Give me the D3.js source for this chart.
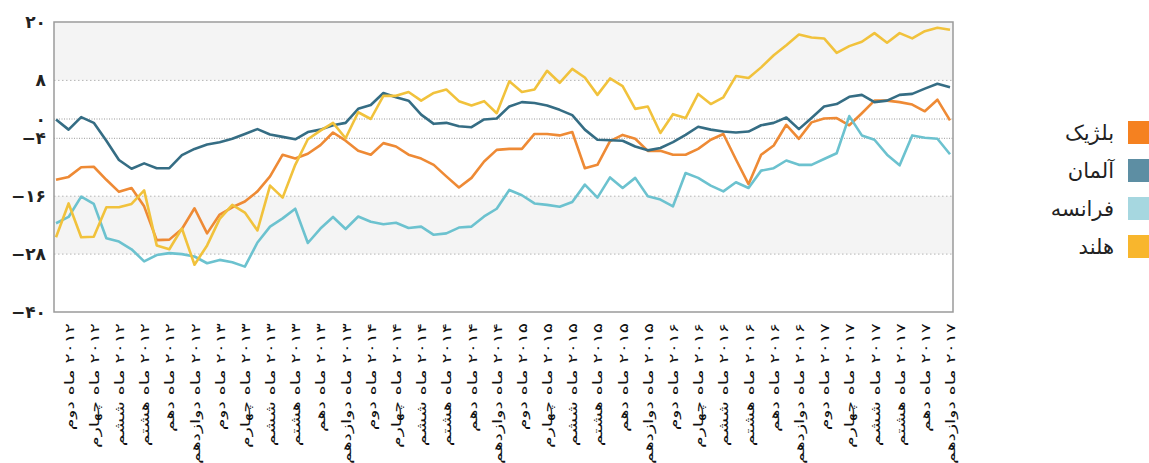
<!DOCTYPE html>
<html>
<head>
<meta charset="utf-8">
<script src="https://cdn.jsdelivr.net/npm/d3@7"></script>
<style>
  body { margin: 0; background: #fff; }
  svg { display: block; font-family: "DejaVu Sans", sans-serif; }
</style>
</head>
<body>
<svg id="chart"></svg>
<script>
// categories
const years = ["۲۰۱۲", "۲۰۱۳", "۲۰۱۴", "۲۰۱۵", "۲۰۱۶", "۲۰۱۷"];
const tickMonths = ["ماه دوم", "ماه چهارم", "ماه ششم", "ماه هشتم", "ماه دهم", "ماه دوازدهم"];
const countries = ["بلژیک", "آلمان", "فرانسه", "هلند"];
const yTicks = [20, 8, 0, -4, -16, -28, -40];

// monthly values, Jan 2012 .. Dec 2017
const belgium = [-12.6, -12.0, -10.0, -9.9, -12.6, -15.1, -14.3, -18.1, -25.1, -25.0, -22.8, -18.5,
  -23.7, -19.8, -18.3, -17.1, -15.0, -11.9, -7.4, -8.2, -7.2, -5.4, -2.8, -4.5,
  -6.6, -7.4, -5.0, -5.7, -7.4, -8.2, -9.5, -11.9, -14.2, -12.2, -8.8, -6.4,
  -6.2, -6.2, -3.1, -3.1, -3.4, -2.7, -10.2, -9.5, -4.6, -3.3, -4.1, -6.6,
  -6.6, -7.4, -7.4, -6.2, -4.3, -3.1, -8.4, -13.5, -7.4, -5.5, -1.2, -4.1,
  -0.7, 0.1, 0.2, -1.3, 1.2, 3.8, 3.8, 3.5, 3.0, 1.6, 4.0, -0.3];
const germany = [-0.1, -2.2, 0.4, -0.8, -4.5, -8.5, -10.3, -9.2, -10.2, -10.2, -7.5, -6.2,
  -5.3, -4.8, -4.1, -3.1, -2.1, -3.2, -3.7, -4.2, -2.7, -2.2, -1.3, -0.8,
  2.1, 2.9, 5.4, 4.5, 3.8, 0.9, -1.0, -0.8, -1.5, -1.7, -0.1, 0.1,
  2.6, 3.5, 3.3, 2.8, 1.9, 0.8, -2.2, -4.3, -4.4, -4.5, -5.7, -6.5,
  -6.0, -4.8, -3.3, -1.6, -2.2, -2.6, -2.8, -2.6, -1.3, -0.8, 0.3, -2.1,
  0.2, 2.6, 3.1, 4.6, 5.0, 3.5, 3.8, 5.0, 5.2, 6.3, 7.3, 6.6];
const france = [-21.6, -20.3, -16.1, -17.6, -24.7, -25.4, -27.0, -29.5, -28.2, -27.8, -28.0, -28.5,
  -29.9, -29.2, -29.7, -30.6, -25.6, -22.3, -20.6, -18.6, -25.7, -22.7, -20.3, -22.8,
  -20.2, -21.3, -21.8, -21.5, -22.6, -22.3, -24.0, -23.7, -22.5, -22.3, -20.2, -18.6,
  -14.7, -15.8, -17.5, -17.8, -18.2, -17.2, -13.6, -16.3, -12.1, -14.3, -12.2, -16.0,
  -16.7, -18.1, -11.2, -12.2, -13.8, -15.0, -13.1, -14.3, -10.7, -10.2, -8.6, -9.5,
  -9.5, -8.3, -7.1, 0.6, -3.4, -4.3, -7.4, -9.6, -3.4, -3.9, -4.1, -7.3];
const netherlands = [-24.5, -17.5, -24.5, -24.4, -18.3, -18.3, -17.6, -14.8, -26.2, -27.0, -22.7, -30.2,
  -26.2, -20.7, -17.8, -19.4, -23.1, -13.8, -16.3, -9.5, -4.2, -2.4, -0.8, -4.0,
  1.4, 0.0, 4.8, 4.8, 5.6, 3.8, 5.4, 6.1, 3.7, 2.8, 3.7, 1.2,
  7.8, 5.6, 6.1, 10.0, 7.5, 10.4, 8.6, 5.0, 8.4, 6.8, 2.1, 2.6,
  -2.9, 1.0, 0.2, 5.2, 3.1, 4.5, 8.9, 8.5, 10.7, 13.2, 15.3, 17.5,
  16.9, 16.7, 13.7, 15.1, 16.0, 17.8, 15.8, 17.8, 16.7, 18.2, 18.9, 18.5];

const series = [belgium, germany, france, netherlands];
const lineColors = ["#ee8a35", "#356d84", "#6cc2cf", "#f1c23c"];
const swatchColors = ["#f58120", "#5d8ea3", "#a6d7e0", "#f8b62d"];

const W = 1149, H = 463;
const plot = { left: 54, right: 953, top: 22, bottom: 312 };

const faDigits = s => String(s).replace(/\d/g, d => "۰۱۲۳۴۵۶۷۸۹"[d]);
const faNum = n => (n < 0 ? "\u2212" : "") + faDigits(Math.abs(n));

const svg = d3.select("#chart").attr("width", W).attr("height", H);

const nMonths = belgium.length;
const x = d3.scalePoint()
  .domain(d3.range(nMonths))
  .range([56, 950]);

const y = d3.scaleLinear()
  .domain([-40, 20])
  .range([plot.bottom, plot.top + 0.5]);

// background bands
const bands = [[20, 8], [-16, -28]];
svg.selectAll(".band")
  .data(bands)
  .enter()
  .append("rect")
  .attr("class", "band")
  .attr("x", plot.left)
  .attr("width", plot.right - plot.left)
  .attr("y", d => y(d[0]))
  .attr("height", d => y(d[1]) - y(d[0]))
  .attr("fill", "#f4f4f4");

// grid lines
svg.selectAll(".grid")
  .data(yTicks.filter(v => v > -40 && v < 20))
  .enter()
  .append("line")
  .attr("class", "grid")
  .attr("x1", plot.left)
  .attr("x2", plot.right)
  .attr("y1", d => y(d))
  .attr("y2", d => y(d))
  .attr("stroke", d => (d === 0 || d === -4) ? "#999" : "#b5b5b5")
  .attr("stroke-width", 1)
  .attr("stroke-dasharray", d => (d === 0 || d === -4) ? "1,1.5" : "1.5,2.5");

// lines
const line = d3.line()
  .x((d, i) => x(i))
  .y(d => y(d));

svg.selectAll(".series")
  .data(series)
  .enter()
  .append("path")
  .attr("class", "series")
  .attr("d", line)
  .attr("fill", "none")
  .attr("stroke", (d, i) => lineColors[i])
  .attr("stroke-width", 2.6)
  .attr("stroke-linejoin", "round");

// frame
svg.append("rect")
  .attr("x", plot.left)
  .attr("y", plot.top)
  .attr("width", plot.right - plot.left)
  .attr("height", plot.bottom - plot.top)
  .attr("fill", "none")
  .attr("stroke", "#9a9a9a")
  .attr("stroke-width", 1.5);

// y axis
const yAxis = d3.axisLeft(y)
  .tickValues(yTicks)
  .tickSize(0)
  .tickPadding(0)
  .tickFormat(faNum);

svg.append("g")
  .attr("transform", `translate(${plot.left - 8},0)`)
  .call(yAxis)
  .call(g => g.select(".domain").remove())
  .selectAll("text")
  .attr("font-family", "DejaVu Sans, sans-serif")
  .attr("font-size", 17)
  .attr("font-weight", "bold")
  .attr("fill", "#222");

// x axis labels (every second month)
const labelIdx = d3.range(1, nMonths, 2);
const labelText = i => years[Math.floor(i / 12)] + " " + tickMonths[Math.floor((i % 12) / 2)];

const xAxis = d3.axisBottom(x)
  .tickValues(labelIdx)
  .tickSize(0)
  .tickFormat(labelText);

svg.append("g")
  .attr("transform", `translate(0,${plot.bottom + 11})`)
  .call(xAxis)
  .call(g => g.select(".domain").remove())
  .selectAll("text")
  .attr("font-family", "DejaVu Sans, sans-serif")
  .attr("font-size", 13)
  .attr("fill", "#111")
  .attr("direction", "rtl")
  .attr("text-anchor", "start")
  .attr("y", 0)
  .attr("dy", "0.35em")
  .attr("transform", "rotate(-90) scale(1.45,1)");

// legend
const legend = svg.append("g");
const item = legend.selectAll(".item")
  .data(countries)
  .enter()
  .append("g")
  .attr("class", "item")
  .attr("transform", (d, i) => `translate(0,${121 + i * 38})`);

item.append("rect")
  .attr("x", 1128)
  .attr("width", 24)
  .attr("height", 23)
  .attr("fill", (d, i) => swatchColors[i]);

item.append("text")
  .attr("x", 1114)
  .attr("y", 12)
  .attr("dy", "0.35em")
  .attr("text-anchor", "end")
  .attr("font-size", 21)
  .attr("fill", "#222")
  .text(d => d);
</script>
</body>
</html>
